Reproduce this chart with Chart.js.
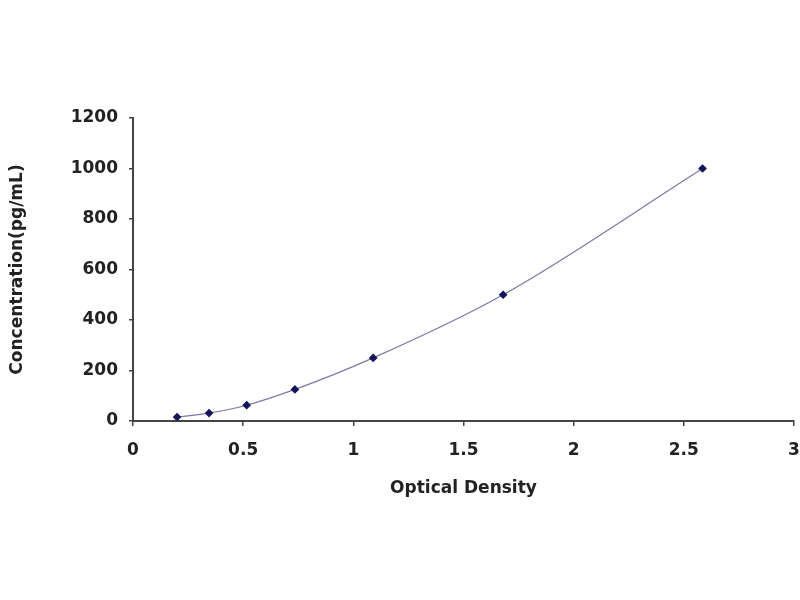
<!DOCTYPE html>
<html>
<head>
<meta charset="utf-8">
<script src="https://cdn.jsdelivr.net/npm/chart.js@4/dist/chart.umd.min.js"></script>
<style>
  html, body { margin: 0; padding: 0; background: #fff; }
  #wrap { width: 800px; height: 600px; }
</style>
</head>
<body>
<div id="wrap"><canvas id="curve"></canvas></div>
<script>
// standard curve data
const opticalDensity = [0.2, 0.345, 0.516, 0.735, 1.09, 1.68, 2.585];
const concentration = [15.6, 31.25, 62.5, 125, 250, 500, 1000];
const xTicks = [0, 0.5, 1, 1.5, 2, 2.5, 3];
const yTicks = [0, 200, 400, 600, 800, 1000, 1200];

const font = { family: 'DejaVu Sans', weight: 'bold', size: 17 };

document.addEventListener('DOMContentLoaded', () => {
    const points = opticalDensity.map((od, i) => ({ x: od, y: concentration[i] }));

    new Chart(document.getElementById('curve').getContext('2d'), {
        type: 'scatter',
        data: {
            datasets: [{
                data: points,
                showLine: true,
                cubicInterpolationMode: 'monotone',
                borderColor: '#7a7aa6',
                borderWidth: 1.2,
                pointStyle: 'rectRot',
                pointRadius: 3.5,
                pointBackgroundColor: '#14145a',
                pointBorderColor: '#14145a'
            }]
        },
        options: {
            responsive: true,
            maintainAspectRatio: false,
            animation: false,
            layout: { padding: { left: 0, top: 118, right: 6, bottom: 79 } },
            plugins: { legend: { display: false }, tooltip: { enabled: false } },
            scales: {
                x: {
                    type: 'linear',
                    min: 0, max: 3,
                    afterBuildTicks: s => { s.ticks = xTicks.map(v => ({ value: v })); },
                    afterFit: s => { s.height = 100; s.paddingRight = 0; s.paddingLeft = 0; },
                    grid: { drawOnChartArea: false, tickLength: 5, color: '#444', lineWidth: 1.5 },
                    border: { color: '#444', width: 2 },
                    ticks: { font: font, color: '#222', padding: 14, callback: v => String(v) },
                    title: { display: true, text: 'Optical Density', font: font, color: '#222', padding: { top: 0, bottom: 22 } }
                },
                y: {
                    min: 0, max: 1200,
                    afterBuildTicks: s => { s.ticks = yTicks.map(v => ({ value: v })); },
                    afterFit: s => { s.width = 133; },
                    grid: { drawOnChartArea: false, tickLength: 4, color: '#444', lineWidth: 1.5 },
                    border: { color: '#444', width: 2 },
                    ticks: { font: font, color: '#222', padding: 11, callback: v => String(v) },
                    title: { display: true, text: 'Concentration(pg/mL)', font: font, color: '#222', padding: { top: 7, bottom: 0 } }
                }
            }
        }
    });
});
</script>
</body>
</html>
